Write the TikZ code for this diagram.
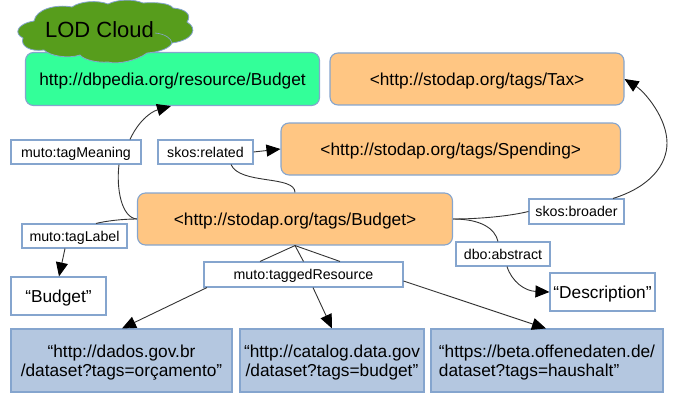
\documentclass[tikz,border=0pt]{standalone}
\usepackage{fontspec}
\setmainfont{Liberation Sans}
\usetikzlibrary{arrows.meta}
\definecolor{edgeblue}{HTML}{85A5CE}
\definecolor{orangefill}{HTML}{FFC683}
\definecolor{greenfill}{HTML}{33FF99}
\definecolor{bluefill}{HTML}{B4C7E0}
\definecolor{cloudfill}{HTML}{579D1C}
\definecolor{linkgrey}{HTML}{333333}
\tikzset{
  base/.style={draw=edgeblue,line width=1.1pt,inner sep=0pt,align=center,text=black,text depth=0pt},
  roundbox/.style={base,rounded corners=8pt,font=\fontsize{17.3}{19.5}\selectfont},
  orangebox/.style={roundbox,fill=orangefill},
  greenbox/.style={roundbox,fill=greenfill},
  bluebox/.style={base,fill=bluefill,font=\fontsize{17.3}{19.5}\selectfont},
  literal/.style={base,fill=white,font=\fontsize{17.3}{19.5}\selectfont},
  labelbox/.style={base,fill=white,font=\fontsize{14.2}{16}\selectfont},
  link/.style={draw=linkgrey,line width=0.9pt},
  arrowlink/.style={link,-{Triangle[length=14pt,width=12pt,color=black]}},
}
\begin{document}
\begin{tikzpicture}[x=1pt,y=-1pt]
\useasboundingbox (0,0) rectangle (678,396);
% boxes
\node[greenbox,minimum width=294pt,minimum height=53pt] (green) at (172.5,79) {http://dbpedia.org/resource/Budget};
% cloud
\fill[cloudfill,draw=edgeblue,line width=0.8pt]
  (34,21) .. controls (36,9) and (56,4) .. (72,7)
  .. controls (80,1) and (98,0) .. (108,4)
  .. controls (118,-1) and (134,-1) .. (143,3)
  .. controls (155,2) and (170,3) .. (173,8)
  .. controls (186,9) and (192,15) .. (187,22)
  .. controls (198,28) and (194,40) .. (172,43)
  .. controls (170,48) and (160,52) .. (147,53)
  .. controls (138,60) and (118,65) .. (108,62)
  .. controls (98,63) and (84,60) .. (80,55)
  .. controls (68,59) and (50,56) .. (44,50)
  .. controls (30,52) and (20,46) .. (23,38)
  .. controls (14,34) and (16,24) .. (34,21) -- cycle;
\draw[edgeblue,line width=0.6pt] (155,33) .. controls (165,34) and (171,38) .. (172,43);
\node[font=\fontsize{22}{24}\selectfont,text=black,inner sep=0pt] (cloud) at (99.5,30) {LOD Cloud};
\node[orangebox,minimum width=294pt,minimum height=52pt] (tax) at (477,79) {<http://stodap.org/tags/Tax>};
\node[orangebox,minimum width=339.5pt,minimum height=52pt] (spending) at (450.75,149) {<http://stodap.org/tags/Spending>};
\node[orangebox,minimum width=315pt,minimum height=52pt] (budget) at (295,219) {<http://stodap.org/tags/Budget>};
\node[labelbox,minimum width=130pt,minimum height=24pt] (meaning) at (76,152) {muto:tagMeaning};
\node[labelbox,minimum width=95pt,minimum height=24pt] (related) at (205.5,152) {skos:related};
\node[labelbox,minimum width=95pt,minimum height=25pt] (broader) at (576.5,211.5) {skos:broader};
\node[labelbox,minimum width=105pt,minimum height=24pt] (taglabel) at (74.5,236) {muto:tagLabel};
\node[labelbox,minimum width=94pt,minimum height=24pt] (abstract) at (503,254) {dbo:abstract};
\node[labelbox,minimum width=199pt,minimum height=25pt] (tagged) at (303.5,274.5) {muto:taggedResource};
\node[literal,minimum width=95pt,minimum height=38pt] (budgetlit) at (58.5,296) {“Budget”};
\node[literal,minimum width=105pt,minimum height=38pt] (desc) at (602.5,292) {“Description”};
\node[bluebox,minimum width=221pt,minimum height=63pt] (res1) at (121.5,360.5) {“http://dados.gov.br\\/dataset?tags=orçamento”};
\node[bluebox,minimum width=184pt,minimum height=63pt] (res2) at (332,360.5) {“http://catalog.data.gov\\/dataset?tags=budget”};
\node[bluebox,minimum width=232pt,minimum height=63pt,align=left] (res3) at (547,360.5) {“https://beta.offenedaten.de/\\dataset?tags=haushalt”};
% connectors
\draw[link] (budget.west) .. controls (122,218) and (116,190) .. (meaning.south -| 119,0);
\draw[arrowlink] (meaning.north -| 130,0) .. controls (138,122) and (150,112) .. (green.south -| 171,0);
\draw[link] (budget.west) .. controls (122,219) and (106,221) .. (taglabel.north -| 96,0);
\draw[arrowlink] (taglabel.south -| 65,0) -- (budgetlit.north -| 59,0);
\draw[link] (related.south -| 231,0) .. controls (240,185) and (295,175) .. (budget.north -| 295,0);
\draw[arrowlink] (related.east) -- (spending.west);
\draw[link] (budget.east) .. controls (480,219) and (510,216) .. (broader.west);
\draw[arrowlink] (broader.north -| 613,0) .. controls (650,187) and (667,165) .. (667,143) .. controls (667,118) and (645,92) .. (tax.east);
\draw[link] (budget.east) .. controls (480,219) and (495,228) .. (abstract.north -| 498,0);
\draw[arrowlink] (abstract.south -| 507,0) .. controls (512,282) and (525,291) .. (desc.west);
\draw[link] (budget.south) -- (tagged.north -| 260,0);
\draw[link] (budget.south) -- (tagged.north);
\draw[link] (budget.south) -- (tagged.north -| 340,0);
\draw[arrowlink] (tagged.south -| 207,0) -- (res1.north -| 122,0);
\draw[arrowlink] (tagged.south -| 313,0) -- (res2.north -| 332,0);
\draw[arrowlink] (tagged.east |- 0,281) -- (res3.north -| 546,0);
\end{tikzpicture}
\end{document}
